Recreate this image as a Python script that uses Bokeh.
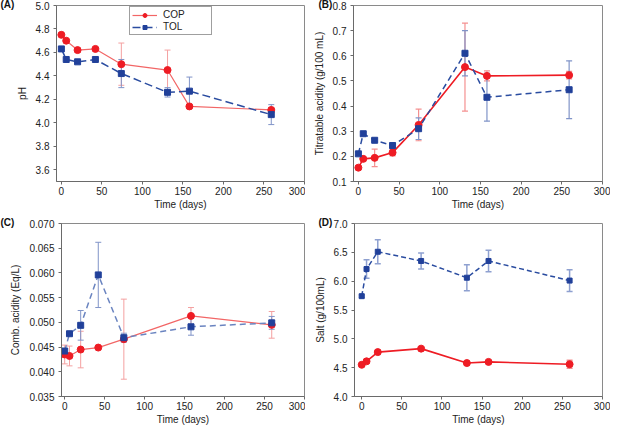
from bokeh.plotting import figure
from bokeh.models import (Whisker, TeeHead, ColumnDataSource, FixedTicker,
                          NumeralTickFormatter, Legend, LegendItem, Title, Range1d)
from bokeh.layouts import row, column
from bokeh.embed import file_html
from bokeh.resources import INLINE

# ---------------- data ----------------
# (A) pH
ph_days = [0, 6, 20, 42, 74, 131, 158, 259]
ph_cop = [4.75, 4.70, 4.62, 4.63, 4.50, 4.45, 4.14, 4.11]
ph_cop_err = [0.01, 0.005, 0.02, 0.01, 0.18, 0.17, 0.01, 0.02]
ph_tol = [4.63, 4.54, 4.52, 4.54, 4.42, 4.26, 4.27, 4.07]
ph_tol_err = [0.01, 0.01, 0.01, 0.01, 0.12, 0.04, 0.12, 0.085]

# (B) titratable acidity
ta_days = [0, 6, 20, 42, 74, 131, 158, 259]
ta_cop = [0.155, 0.19, 0.194, 0.215, 0.325, 0.555, 0.52, 0.523]
ta_cop_err = [0.005, 0.008, 0.035, 0.013, 0.063, 0.175, 0.02, 0.015]
ta_tol = [0.21, 0.29, 0.264, 0.243, 0.31, 0.61, 0.435, 0.465]
ta_tol_err = [0.005, 0.006, 0.005, 0.01, 0.043, 0.09, 0.095, 0.115]

# (C) combined acidity
ca_days = [0, 6, 20, 42, 74, 158, 259]
ca_cop = [0.0435, 0.0432, 0.0445, 0.0449, 0.0466, 0.0513, 0.0495]
ca_cop_err = [0.0019, 0.002, 0.0037, 0.0002, 0.0081, 0.0017, 0.0027]
ca_tol = [0.0442, 0.0477, 0.0494, 0.0596, 0.0469, 0.0491, 0.0499]
ca_tol_err = [0.0004, 0.0002, 0.003, 0.0066, 0.0009, 0.0017, 0.0013]

# (D) salt
salt_days = [0, 6, 20, 74, 131, 158, 259]
salt_cop = [4.55, 4.61, 4.77, 4.83, 4.58, 4.60, 4.56]
salt_cop_err = [0.02, 0.03, 0.03, 0.02, 0.03, 0.02, 0.07]
salt_tol = [5.74, 6.21, 6.51, 6.35, 6.06, 6.35, 6.01]
salt_tol_err = [0.02, 0.16, 0.21, 0.14, 0.225, 0.185, 0.19]

x_ticks = [0, 50, 100, 150, 200, 250, 300]

FONT = "Liberation Sans"
RED = "#ee1c24"
BLUE = "#21409a"


def panel(days, cop, cop_err, tol, tol_err, x_start, y_range, y_ticks, y_fmt,
          y_label, tag, borders, cop_line, tol_line, cop_err_c, tol_err_c,
          cop_lw, dash, tag_dx, err_w=1.0, sq=6, legend=False):
    bl, br, bt, bb = borders
    p = figure(width=305, height=216, output_backend="svg", toolbar_location=None,
               x_range=Range1d(x_start, 300), y_range=Range1d(*y_range),
               min_border_left=bl, min_border_right=br, min_border_top=bt,
               min_border_bottom=bb, title=None)
    p.xgrid.visible = False
    p.ygrid.visible = False
    p.outline_line_color = "#8a8a8a"
    p.background_fill_color = "white"
    p.border_fill_color = "white"

    for ax in (p.xaxis[0], p.yaxis[0]):
        ax.axis_line_color = "#6a6a6a"
        ax.major_tick_line_color = "#6a6a6a"
        ax.major_tick_out = 3
        ax.major_tick_in = 0
        ax.minor_tick_line_color = None
        ax.major_label_text_font = FONT
        ax.major_label_text_font_size = "10px"
        ax.major_label_text_color = "#222222"
        ax.axis_label_text_font = FONT
        ax.axis_label_text_font_size = "10px"
        ax.axis_label_text_font_style = "normal"
        ax.axis_label_text_color = "#222222"
    p.xaxis.ticker = FixedTicker(ticks=x_ticks)
    p.xaxis.formatter = NumeralTickFormatter(format="0")
    p.xaxis.axis_label = "Time (days)"
    p.xaxis.major_label_standoff = 2
    p.xaxis.axis_label_standoff = 1
    p.yaxis.ticker = FixedTicker(ticks=y_ticks)
    p.yaxis.formatter = NumeralTickFormatter(format=y_fmt)
    p.yaxis.axis_label = y_label
    p.yaxis.major_label_standoff = 4
    p.yaxis.axis_label_standoff = 5

    src_c = ColumnDataSource(dict(x=days, y=cop,
                                  lo=[v - e for v, e in zip(cop, cop_err)],
                                  hi=[v + e for v, e in zip(cop, cop_err)]))
    src_t = ColumnDataSource(dict(x=days, y=tol,
                                  lo=[v - e for v, e in zip(tol, tol_err)],
                                  hi=[v + e for v, e in zip(tol, tol_err)]))

    for src, c in ((src_c, cop_err_c), (src_t, tol_err_c)):
        w = Whisker(base="x", lower="lo", upper="hi", source=src,
                    line_color=c, line_width=err_w,
                    lower_head=TeeHead(size=6, line_color=c, line_width=err_w),
                    upper_head=TeeHead(size=6, line_color=c, line_width=err_w))
        p.add_layout(w)

    lc = p.line("x", "y", source=src_c, line_color=cop_line, line_width=cop_lw)
    sc = p.scatter("x", "y", source=src_c, marker="circle", size=7,
                   fill_color=RED, line_color=RED)
    lt = p.line("x", "y", source=src_t, line_color=tol_line, line_width=1.5,
                line_dash=dash)
    st = p.scatter("x", "y", source=src_t, marker="square", size=sq,
                   fill_color=BLUE, line_color=BLUE)

    if legend:
        lg = Legend(items=[LegendItem(label="COP", renderers=[lc, sc]),
                           LegendItem(label="TOL", renderers=[lt, st])],
                    location=(73, 146), orientation="vertical",
                    label_text_font=FONT, label_text_font_size="10px",
                    label_text_color="#222222",
                    glyph_width=25, glyph_height=10, label_height=10,
                    label_standoff=6, spacing=1, padding=2, margin=0,
                    border_line_color="#404040", border_line_width=1,
                    background_fill_alpha=1.0)
        lg.label_width = 46
        p.add_layout(lg, "center")

    t = Title(text=tag, align="left", offset=tag_dx, standoff=-8,
              text_font=FONT, text_font_size="10px", text_font_style="bold",
              text_color="#111111")
    p.add_layout(t, "above")
    return p


pA = panel(ph_days, ph_cop, ph_cop_err, ph_tol, ph_tol_err, -6, (3.5, 5.0),
           [3.6, 3.8, 4.0, 4.2, 4.4, 4.6, 4.8, 5.0], "0.0", "pH", "(A)",
           (56, 1, 5, 35), "#f26666", "#2a4ca0", "#f4a0a0", "#8094c8", 1.2,
           "8 4", -56, legend=True)
pB = panel(ta_days, ta_cop, ta_cop_err, ta_tol, ta_tol_err, -6, (0.1, 0.8),
           [0.1, 0.2, 0.3, 0.4, 0.5, 0.6, 0.7, 0.8], "0.0",
           "Titratable acidity (g/100 mL)", "(B)",
           (48, 8, 5, 35), "#ee1c24", "#2a4ca0", "#f49090", "#8094c8", 1.6,
           "6 4", -35, err_w=1.2)
pC = panel(ca_days, ca_cop, ca_cop_err, ca_tol, ca_tol_err, -4, (0.035, 0.070),
           [0.035, 0.040, 0.045, 0.050, 0.055, 0.060, 0.065, 0.070], "0.000",
           "Comb. acidity (Eq/L)", "(C)",
           (61, 1, 7, 34), "#f26666", "#6a84c0", "#f4a0a0", "#8094c8", 1.2,
           "6 4", -61)
pD = panel(salt_days, salt_cop, salt_cop_err, salt_tol, salt_tol_err, -9, (4.0, 7.0),
           [4.0, 4.5, 5.0, 5.5, 6.0, 6.5, 7.0], "0.0", "Salt (g/100mL)", "(D)",
           (49, 8, 6, 36), "#ee1c24", "#2a4ca0", "#f49090", "#8ea0d0", 1.6,
           "5 3", -36, err_w=1.5, sq=5)

layout = column(row(pA, pB), row(pC, pD))
open("out.html", "w").write(file_html(layout, INLINE))
